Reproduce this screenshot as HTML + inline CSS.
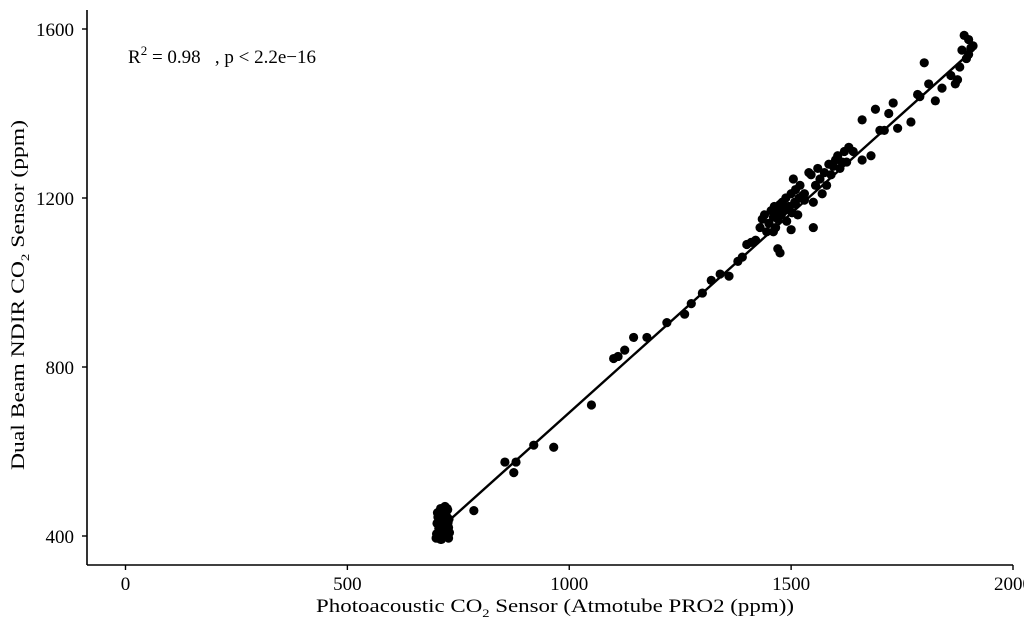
<!DOCTYPE html>
<html><head><meta charset="utf-8"><style>
body{margin:0;background:#fff;}
svg{display:block;font-family:"Liberation Serif",serif;}
</style></head><body>
<svg id="chart" width="1024" height="626">
<text x="128" y="63" font-size="19">R<tspan dy="-8" font-size="13">2</tspan><tspan dy="8"> = 0.98 &#160;&#160;, p &lt; 2.2e−16</tspan></text>
<text x="555" y="612" font-size="19" text-anchor="middle" textLength="478" lengthAdjust="spacingAndGlyphs">Photoacoustic CO<tspan dy="5" font-size="12">2</tspan><tspan dy="-5"> Sensor (Atmotube PRO2 (ppm))</tspan></text>
<text transform="translate(24,295) rotate(-90)" font-size="19" text-anchor="middle" textLength="350" lengthAdjust="spacingAndGlyphs">Dual Beam NDIR CO<tspan dy="5" font-size="12">2</tspan><tspan dy="-5"> Sensor (ppm)</tspan></text>
</svg>
<script>
const xTicks=[0,500,1000,1500,2000];
const yTicks=[400,800,1200,1600];
const clusterX=[700,705,710,712,715,718,720,722,725,728,730,702,708,713,717,721,724,727,703,709,714,719,723,726,729,706,711,716,720,725,701,707,712,718,722,728,704,710,715,724];
const clusterY=[395,400,392,410,405,398,415,420,402,395,408,430,425,440,435,428,445,432,455,450,460,452,448,462,440,418,412,422,470,465,405,438,392,458,398,420,445,465,430,412];
const tailX=[785,855,875,880,920,965,1050,1100,1110,1125,1145,1175,1220,1260,1275,1300,1320,1340,1360,1380,1390,1400,1410,1420,1430,1435,1440,1445,1450,1455,1460,1462,1465,1468,1470,1472,1475,1478,1480,1485,1488,1490,1495,1500,1502,1505,1508,1510,1515,1518,1520,1525,1530,1540,1545,1550,1555,1560,1565,1570,1575,1580,1585,1590,1595,1600,1605,1610,1615,1620,1625,1470,1475,1500,1550,1450,1460,1490,1510,1530,1630,1640,1660,1660,1680,1690,1700,1710,1720,1730,1740,1770,1785,1790,1800,1810,1825,1840,1860,1870,1875,1880,1885,1890,1895,1900,1905,1910,1900];
const tailY=[460,575,550,575,615,610,710,820,825,840,870,870,905,925,950,975,1005,1020,1015,1050,1060,1090,1095,1100,1130,1150,1160,1120,1140,1170,1155,1180,1130,1165,1150,1175,1185,1160,1190,1170,1200,1175,1180,1210,1165,1245,1190,1220,1160,1200,1230,1205,1210,1260,1255,1190,1230,1270,1245,1210,1260,1230,1280,1255,1275,1290,1300,1270,1285,1310,1285,1080,1070,1125,1130,1140,1120,1145,1185,1195,1320,1310,1290,1385,1300,1410,1360,1360,1400,1425,1365,1380,1445,1440,1520,1470,1430,1460,1490,1470,1480,1510,1550,1585,1530,1575,1555,1560,1540];
const lineX=[700,1905];
const slope=0.943, intercept=-251;
const NS='http://www.w3.org/2000/svg';
const svg=document.getElementById('chart');
const xs=v=>125.5+v*0.44375;
const ys=v=>536-(v-400)*0.4225;
function mk(t,a){const e=document.createElementNS(NS,t);for(const k in a)e.setAttribute(k,a[k]);svg.appendChild(e);return e;}
let ax=mk('line',{x1:87,y1:565,x2:1013,y2:565,stroke:'#000','stroke-width':1.6});


let ay=mk('line',{x1:87,y1:10,x2:87,y2:565,stroke:'#000','stroke-width':1.6});


xTicks.forEach(v=>{
 const t=mk('line',{x1:xs(v),y1:565,x2:xs(v),y2:570,stroke:'#000','stroke-width':1.4});
 
 
 const l=mk('text',{x:xs(v),y:590,'font-size':19,'text-anchor':'middle'});l.textContent=v;
 
 
});
yTicks.forEach(v=>{
 const t=mk('line',{x1:82,y1:ys(v),x2:87,y2:ys(v),stroke:'#000','stroke-width':1.4});
 
 
 const l=mk('text',{x:74,y:ys(v)+7,'font-size':19,'text-anchor':'end'});l.textContent=v;
 
 
});
function pt(x,y){const c=mk('circle',{cx:xs(x),cy:ys(y),r:4.6,fill:'#000'});
 
 }
clusterX.forEach((x,i)=>pt(x,clusterY[i]));
tailX.forEach((x,i)=>pt(x,tailY[i]));
const rl=mk('line',{x1:xs(lineX[0]),y1:ys(slope*lineX[0]+intercept),x2:xs(lineX[1]),y2:ys(slope*lineX[1]+intercept),stroke:'#000','stroke-width':2.4});


</script>
</body></html>
